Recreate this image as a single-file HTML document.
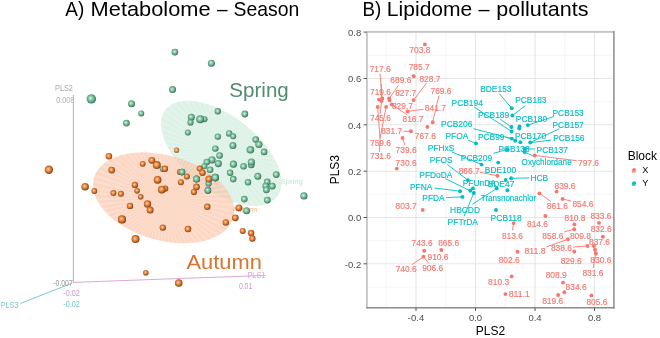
<!DOCTYPE html><html><head><meta charset="utf-8"><style>html,body{margin:0;padding:0;background:#fff;}svg{display:block;will-change:transform;}</style></head><body>
<svg width="660" height="338" viewBox="0 0 660 338" font-family='"Liberation Sans", sans-serif'>
<defs>
<radialGradient id="gg" cx="45%" cy="45%" r="58%" fx="42%" fy="42%"><stop offset="0" stop-color="#eafff3"/><stop offset="0.18" stop-color="#ace3c6"/><stop offset="0.45" stop-color="#7dc2a0"/><stop offset="0.74" stop-color="#5a9a7b"/><stop offset="0.9" stop-color="#3f735b"/><stop offset="1" stop-color="#36594a"/></radialGradient>
<radialGradient id="og" cx="45%" cy="45%" r="58%" fx="42%" fy="42%"><stop offset="0" stop-color="#ffe6c8"/><stop offset="0.2" stop-color="#f7ad6c"/><stop offset="0.52" stop-color="#e07d34"/><stop offset="0.8" stop-color="#a65322"/><stop offset="1" stop-color="#6a3412"/></radialGradient>
</defs>
<rect width="660" height="338" fill="#fff"/>
<text x="65.36" y="16.3" font-size="20.3" textLength="18.91" lengthAdjust="spacingAndGlyphs" fill="#000">A)</text>
<text x="90.61" y="16.3" font-size="20.3" textLength="119.96" lengthAdjust="spacingAndGlyphs" fill="#000">Metabolome</text>
<text x="216.9" y="16.3" font-size="20.3" textLength="10.61" lengthAdjust="spacingAndGlyphs" fill="#000">–</text>
<text x="233.52" y="16.3" font-size="20.3" textLength="65.74" lengthAdjust="spacingAndGlyphs" fill="#000">Season</text>
<text x="362.47" y="16.3" font-size="20.3" textLength="18.69" lengthAdjust="spacingAndGlyphs" fill="#000">B)</text>
<text x="386.87" y="16.3" font-size="20.3" textLength="85.46" lengthAdjust="spacingAndGlyphs" fill="#000">Lipidome</text>
<text x="478.6" y="16.3" font-size="20.3" textLength="11.01" lengthAdjust="spacingAndGlyphs" fill="#000">–</text>
<text x="496.31" y="16.3" font-size="20.3" textLength="92.27" lengthAdjust="spacingAndGlyphs" fill="#000">pollutants</text>
<circle cx="176.6" cy="150.2" r="2.6" fill="url(#og)"/>
<clipPath id="cg"><ellipse cx="221.3" cy="153.3" rx="70.8" ry="37.2" transform="rotate(38.2 221.3 153.3)"/></clipPath>
<clipPath id="co"><ellipse cx="163.6" cy="197.8" rx="72.5" ry="42.5" transform="rotate(15.9 163.6 197.8)"/></clipPath>
<ellipse cx="221.3" cy="153.3" rx="70.8" ry="37.2" transform="rotate(38.2 221.3 153.3)" fill="#b9e5cf" fill-opacity="0.5"/>
<path clip-path="url(#cg)" d="M221.3,153.3L331.3,153.3L331.2,157.9ZM221.3,153.3L330.9,162.5L330.4,167.1ZM221.3,153.3L329.8,171.6L328.9,176.2ZM221.3,153.3L327.8,180.7L326.6,185.1ZM221.3,153.3L325.2,189.5L323.6,193.8ZM221.3,153.3L321.8,198.0L319.8,202.2ZM221.3,153.3L317.7,206.3L315.4,210.3ZM221.3,153.3L312.9,214.2L310.3,218.0ZM221.3,153.3L307.5,221.6L304.6,225.2ZM221.3,153.3L301.5,228.6L298.3,231.9ZM221.3,153.3L294.9,235.0L291.4,238.1ZM221.3,153.3L287.8,240.9L284.1,243.6ZM221.3,153.3L280.2,246.2L276.3,248.6ZM221.3,153.3L272.3,250.8L268.1,252.8ZM221.3,153.3L263.9,254.7L259.6,256.4ZM221.3,153.3L255.3,257.9L250.9,259.2ZM221.3,153.3L246.4,260.4L241.9,261.4ZM221.3,153.3L237.4,262.1L232.8,262.7ZM221.3,153.3L228.2,263.1L223.6,263.3ZM221.3,153.3L219.0,263.3L214.4,263.1ZM221.3,153.3L209.8,262.7L205.2,262.1ZM221.3,153.3L200.7,261.4L196.2,260.4ZM221.3,153.3L191.7,259.2L187.3,257.9ZM221.3,153.3L183.0,256.4L178.7,254.7ZM221.3,153.3L174.5,252.8L170.3,250.8ZM221.3,153.3L166.3,248.6L162.4,246.2ZM221.3,153.3L158.5,243.6L154.8,240.9ZM221.3,153.3L151.2,238.1L147.7,235.0ZM221.3,153.3L144.3,231.9L141.1,228.6ZM221.3,153.3L138.0,225.2L135.1,221.6ZM221.3,153.3L132.3,218.0L129.7,214.2ZM221.3,153.3L127.2,210.3L124.9,206.3ZM221.3,153.3L122.8,202.2L120.8,198.0ZM221.3,153.3L119.0,193.8L117.4,189.5ZM221.3,153.3L116.0,185.1L114.8,180.7ZM221.3,153.3L113.7,176.2L112.8,171.6ZM221.3,153.3L112.2,167.1L111.7,162.5ZM221.3,153.3L111.4,157.9L111.3,153.3ZM221.3,153.3L111.4,148.7L111.7,144.1ZM221.3,153.3L112.2,139.5L112.8,135.0ZM221.3,153.3L113.7,130.4L114.8,125.9ZM221.3,153.3L116.0,121.5L117.4,117.1ZM221.3,153.3L119.0,112.8L120.8,108.6ZM221.3,153.3L122.8,104.4L124.9,100.3ZM221.3,153.3L127.2,96.3L129.7,92.4ZM221.3,153.3L132.3,88.6L135.1,85.0ZM221.3,153.3L138.0,81.4L141.1,78.0ZM221.3,153.3L144.3,74.7L147.7,71.6ZM221.3,153.3L151.2,68.5L154.8,65.7ZM221.3,153.3L158.5,63.0L162.4,60.4ZM221.3,153.3L166.3,58.0L170.3,55.8ZM221.3,153.3L174.5,53.8L178.7,51.9ZM221.3,153.3L183.0,50.2L187.3,48.7ZM221.3,153.3L191.7,47.4L196.2,46.2ZM221.3,153.3L200.7,45.2L205.2,44.5ZM221.3,153.3L209.8,43.9L214.4,43.5ZM221.3,153.3L219.0,43.3L223.6,43.3ZM221.3,153.3L228.2,43.5L232.8,43.9ZM221.3,153.3L237.4,44.5L241.9,45.2ZM221.3,153.3L246.4,46.2L250.9,47.4ZM221.3,153.3L255.3,48.7L259.6,50.2ZM221.3,153.3L263.9,51.9L268.1,53.8ZM221.3,153.3L272.3,55.8L276.3,58.0ZM221.3,153.3L280.2,60.4L284.1,63.0ZM221.3,153.3L287.8,65.7L291.4,68.5ZM221.3,153.3L294.9,71.6L298.3,74.7ZM221.3,153.3L301.5,78.0L304.6,81.4ZM221.3,153.3L307.5,85.0L310.3,88.6ZM221.3,153.3L312.9,92.4L315.4,96.3ZM221.3,153.3L317.7,100.3L319.8,104.4ZM221.3,153.3L321.8,108.6L323.6,112.8ZM221.3,153.3L325.2,117.1L326.6,121.5ZM221.3,153.3L327.8,125.9L328.9,130.4ZM221.3,153.3L329.8,135.0L330.4,139.5ZM221.3,153.3L330.9,144.1L331.2,148.7Z" fill="#fff" fill-opacity="0.2"/>
<ellipse cx="163.6" cy="197.8" rx="72.5" ry="42.5" transform="rotate(15.9 163.6 197.8)" fill="#fabd9d" fill-opacity="0.62"/>
<path clip-path="url(#co)" d="M163.6,197.8L273.6,197.8L273.5,202.4ZM163.6,197.8L273.2,207.0L272.7,211.6ZM163.6,197.8L272.1,216.1L271.2,220.7ZM163.6,197.8L270.1,225.2L268.9,229.6ZM163.6,197.8L267.5,234.0L265.9,238.3ZM163.6,197.8L264.1,242.5L262.1,246.7ZM163.6,197.8L260.0,250.8L257.7,254.8ZM163.6,197.8L255.2,258.7L252.6,262.5ZM163.6,197.8L249.8,266.1L246.9,269.7ZM163.6,197.8L243.8,273.1L240.6,276.4ZM163.6,197.8L237.2,279.5L233.7,282.6ZM163.6,197.8L230.1,285.4L226.4,288.1ZM163.6,197.8L222.5,290.7L218.6,293.1ZM163.6,197.8L214.6,295.3L210.4,297.3ZM163.6,197.8L206.2,299.2L201.9,300.9ZM163.6,197.8L197.6,302.4L193.2,303.7ZM163.6,197.8L188.7,304.9L184.2,305.9ZM163.6,197.8L179.7,306.6L175.1,307.2ZM163.6,197.8L170.5,307.6L165.9,307.8ZM163.6,197.8L161.3,307.8L156.7,307.6ZM163.6,197.8L152.1,307.2L147.5,306.6ZM163.6,197.8L143.0,305.9L138.5,304.9ZM163.6,197.8L134.0,303.7L129.6,302.4ZM163.6,197.8L125.3,300.9L121.0,299.2ZM163.6,197.8L116.8,297.3L112.6,295.3ZM163.6,197.8L108.6,293.1L104.7,290.7ZM163.6,197.8L100.8,288.1L97.1,285.4ZM163.6,197.8L93.5,282.6L90.0,279.5ZM163.6,197.8L86.6,276.4L83.4,273.1ZM163.6,197.8L80.3,269.7L77.4,266.1ZM163.6,197.8L74.6,262.5L72.0,258.7ZM163.6,197.8L69.5,254.8L67.2,250.8ZM163.6,197.8L65.1,246.7L63.1,242.5ZM163.6,197.8L61.3,238.3L59.7,234.0ZM163.6,197.8L58.3,229.6L57.1,225.2ZM163.6,197.8L56.0,220.7L55.1,216.1ZM163.6,197.8L54.5,211.6L54.0,207.0ZM163.6,197.8L53.7,202.4L53.6,197.8ZM163.6,197.8L53.7,193.2L54.0,188.6ZM163.6,197.8L54.5,184.0L55.1,179.5ZM163.6,197.8L56.0,174.9L57.1,170.4ZM163.6,197.8L58.3,166.0L59.7,161.6ZM163.6,197.8L61.3,157.3L63.1,153.1ZM163.6,197.8L65.1,148.9L67.2,144.8ZM163.6,197.8L69.5,140.8L72.0,136.9ZM163.6,197.8L74.6,133.1L77.4,129.5ZM163.6,197.8L80.3,125.9L83.4,122.5ZM163.6,197.8L86.6,119.2L90.0,116.1ZM163.6,197.8L93.5,113.0L97.1,110.2ZM163.6,197.8L100.8,107.5L104.7,104.9ZM163.6,197.8L108.6,102.5L112.6,100.3ZM163.6,197.8L116.8,98.3L121.0,96.4ZM163.6,197.8L125.3,94.7L129.6,93.2ZM163.6,197.8L134.0,91.9L138.5,90.7ZM163.6,197.8L143.0,89.7L147.5,89.0ZM163.6,197.8L152.1,88.4L156.7,88.0ZM163.6,197.8L161.3,87.8L165.9,87.8ZM163.6,197.8L170.5,88.0L175.1,88.4ZM163.6,197.8L179.7,89.0L184.2,89.7ZM163.6,197.8L188.7,90.7L193.2,91.9ZM163.6,197.8L197.6,93.2L201.9,94.7ZM163.6,197.8L206.2,96.4L210.4,98.3ZM163.6,197.8L214.6,100.3L218.6,102.5ZM163.6,197.8L222.5,104.9L226.4,107.5ZM163.6,197.8L230.1,110.2L233.7,113.0ZM163.6,197.8L237.2,116.1L240.6,119.2ZM163.6,197.8L243.8,122.5L246.9,125.9ZM163.6,197.8L249.8,129.5L252.6,133.1ZM163.6,197.8L255.2,136.9L257.7,140.8ZM163.6,197.8L260.0,144.8L262.1,148.9ZM163.6,197.8L264.1,153.1L265.9,157.3ZM163.6,197.8L267.5,161.6L268.9,166.0ZM163.6,197.8L270.1,170.4L271.2,174.9ZM163.6,197.8L272.1,179.5L272.7,184.0ZM163.6,197.8L273.2,188.6L273.5,193.2Z" fill="#fff" fill-opacity="0.2"/>
<circle cx="162.8" cy="168.9" r="3.0" fill="url(#gg)"/>
<circle cx="176.6" cy="150.2" r="2.6" fill="url(#og)" opacity="0.6"/>
<text x="280.7" y="184.4" font-size="7.6" fill="#bfe6d2">Spring</text>
<text x="232.6" y="211.5" font-size="7.2" fill="#f5b88f">Autumn</text>
<circle cx="91.3" cy="98.9" r="4.7" fill="url(#gg)"/>
<circle cx="174.9" cy="52.1" r="3.4" fill="url(#gg)"/>
<circle cx="211.4" cy="63.2" r="3.5" fill="url(#gg)"/>
<circle cx="172.5" cy="89.6" r="3.5" fill="url(#gg)"/>
<circle cx="244.8" cy="114" r="3.4" fill="url(#gg)"/>
<circle cx="131.5" cy="103.7" r="3.5" fill="url(#gg)"/>
<circle cx="141.2" cy="113.4" r="3.0" fill="url(#gg)"/>
<circle cx="126.4" cy="123.1" r="3.4" fill="url(#gg)"/>
<circle cx="217.8" cy="111.3" r="3.2" fill="url(#gg)"/>
<circle cx="191.3" cy="117.2" r="3.5" fill="url(#gg)"/>
<circle cx="190.5" cy="122.4" r="3.1" fill="url(#gg)"/>
<circle cx="204.5" cy="119.2" r="3.0" fill="url(#gg)"/>
<circle cx="200.2" cy="119.2" r="4.0" fill="url(#gg)"/>
<circle cx="187.8" cy="132.4" r="3.0" fill="url(#gg)"/>
<circle cx="217.8" cy="136.6" r="3.2" fill="url(#gg)"/>
<circle cx="229.2" cy="133.4" r="3.2" fill="url(#gg)"/>
<circle cx="233.2" cy="136.3" r="3.0" fill="url(#gg)"/>
<circle cx="232.9" cy="145.5" r="3.5" fill="url(#gg)"/>
<circle cx="215.3" cy="148.6" r="3.2" fill="url(#gg)"/>
<circle cx="219.6" cy="155.5" r="3.3" fill="url(#gg)"/>
<circle cx="255.7" cy="139.6" r="3.3" fill="url(#gg)"/>
<circle cx="258.9" cy="144.5" r="3.6" fill="url(#gg)"/>
<circle cx="250.4" cy="149.8" r="3.8" fill="url(#gg)"/>
<circle cx="264.1" cy="151.9" r="3.3" fill="url(#gg)"/>
<circle cx="212.0" cy="159.8" r="3.6" fill="url(#gg)"/>
<circle cx="206.8" cy="162.1" r="3.3" fill="url(#gg)"/>
<circle cx="218.3" cy="163.6" r="3.6" fill="url(#gg)"/>
<circle cx="233.4" cy="164.2" r="3.6" fill="url(#gg)"/>
<circle cx="204.3" cy="166.3" r="3.0" fill="url(#gg)"/>
<circle cx="210.1" cy="169.8" r="3.3" fill="url(#gg)"/>
<circle cx="230.1" cy="172.8" r="3.2" fill="url(#gg)"/>
<circle cx="233.2" cy="179.1" r="3.3" fill="url(#gg)"/>
<circle cx="215.2" cy="177.6" r="3.8" fill="url(#gg)"/>
<circle cx="182.0" cy="172.1" r="3.3" fill="url(#gg)"/>
<circle cx="196.5" cy="179.1" r="3.5" fill="url(#gg)"/>
<circle cx="208.6" cy="183.4" r="3.1" fill="url(#gg)"/>
<circle cx="207.9" cy="190.4" r="3.3" fill="url(#gg)"/>
<circle cx="251.3" cy="164.9" r="3.3" fill="url(#gg)"/>
<circle cx="251.3" cy="162.0" r="3.6" fill="url(#gg)"/>
<circle cx="243.5" cy="166.3" r="3.3" fill="url(#gg)"/>
<circle cx="257.8" cy="176.3" r="3.5" fill="url(#gg)"/>
<circle cx="276.2" cy="174.6" r="3.4" fill="url(#gg)"/>
<circle cx="248.0" cy="182.3" r="3.2" fill="url(#gg)"/>
<circle cx="267.2" cy="181.9" r="3.3" fill="url(#gg)"/>
<circle cx="265.6" cy="186.0" r="3.2" fill="url(#gg)"/>
<circle cx="272.3" cy="186.1" r="3.4" fill="url(#gg)"/>
<circle cx="266.4" cy="189.8" r="3.4" fill="url(#gg)"/>
<circle cx="303.9" cy="195.9" r="3.6" fill="url(#gg)"/>
<circle cx="244.3" cy="199.1" r="3.3" fill="url(#gg)"/>
<circle cx="267.3" cy="200.1" r="3.4" fill="url(#gg)"/>
<circle cx="48.9" cy="169.8" r="4.2" fill="url(#og)"/>
<circle cx="85.1" cy="186.7" r="3.8" fill="url(#og)"/>
<circle cx="94.3" cy="191" r="2.9" fill="url(#og)"/>
<circle cx="108.9" cy="156.3" r="3.3" fill="url(#og)"/>
<circle cx="111.7" cy="170.1" r="3.4" fill="url(#og)"/>
<circle cx="142.7" cy="163.8" r="2.9" fill="url(#og)"/>
<circle cx="151.8" cy="160.3" r="3.4" fill="url(#og)"/>
<circle cx="156.8" cy="165.1" r="4.0" fill="url(#og)"/>
<circle cx="164.9" cy="168.8" r="3.2" fill="url(#og)"/>
<circle cx="157.6" cy="179.8" r="3.9" fill="url(#og)"/>
<circle cx="134.9" cy="184.9" r="3.2" fill="url(#og)"/>
<circle cx="165.1" cy="188.6" r="3.2" fill="url(#og)"/>
<circle cx="161.8" cy="189.6" r="3.9" fill="url(#og)"/>
<circle cx="199.7" cy="168.6" r="3.0" fill="url(#og)"/>
<circle cx="202.5" cy="172.7" r="3.2" fill="url(#og)"/>
<circle cx="179.9" cy="172" r="3.0" fill="url(#og)"/>
<circle cx="186.9" cy="176.5" r="3.0" fill="url(#og)"/>
<circle cx="208.9" cy="179.1" r="3.5" fill="url(#og)"/>
<circle cx="180.9" cy="182.2" r="3.0" fill="url(#og)"/>
<circle cx="196.5" cy="186.9" r="3.3" fill="url(#og)"/>
<circle cx="193.9" cy="192" r="3.1" fill="url(#og)"/>
<circle cx="113.4" cy="193.1" r="3.0" fill="url(#og)"/>
<circle cx="120.9" cy="193.8" r="3.0" fill="url(#og)"/>
<circle cx="137.1" cy="190.7" r="2.8" fill="url(#og)"/>
<circle cx="140.7" cy="196.8" r="2.8" fill="url(#og)"/>
<circle cx="147.5" cy="203.9" r="3.7" fill="url(#og)"/>
<circle cx="150.1" cy="210.1" r="3.5" fill="url(#og)"/>
<circle cx="130" cy="205.9" r="3.2" fill="url(#og)"/>
<circle cx="122" cy="219.4" r="4.1" fill="url(#og)"/>
<circle cx="162.8" cy="227.6" r="3.2" fill="url(#og)"/>
<circle cx="207.3" cy="206.8" r="3.2" fill="url(#og)"/>
<circle cx="238.9" cy="207.8" r="3.4" fill="url(#og)"/>
<circle cx="235.3" cy="217.8" r="3.4" fill="url(#og)"/>
<circle cx="225.8" cy="222.4" r="3.2" fill="url(#og)"/>
<circle cx="188" cy="229" r="3.3" fill="url(#og)"/>
<circle cx="135.5" cy="239.1" r="4.0" fill="url(#og)"/>
<circle cx="242.7" cy="230.9" r="3.0" fill="url(#og)"/>
<circle cx="251.1" cy="233" r="3.2" fill="url(#og)"/>
<circle cx="252.4" cy="238.5" r="3.2" fill="url(#og)"/>
<circle cx="145.8" cy="272.7" r="2.8" fill="url(#og)"/>
<circle cx="178.7" cy="283" r="3.8" fill="url(#og)"/>
<circle cx="246.5" cy="210.7" r="3.5" fill="url(#gg)"/>
<circle cx="182.0" cy="172.1" r="3.3" fill="url(#gg)"/>
<circle cx="196.5" cy="179.1" r="3.5" fill="url(#gg)"/>
<circle cx="215.2" cy="177.6" r="3.8" fill="url(#gg)"/>
<circle cx="207.9" cy="190.4" r="3.3" fill="url(#gg)"/>
<text x="229.37" y="96.7" font-size="20.5" textLength="59.46" lengthAdjust="spacingAndGlyphs" fill="#508c6e">Spring</text>
<text x="186.56" y="268.9" font-size="19.5" textLength="75.26" lengthAdjust="spacingAndGlyphs" fill="#d9732f">Autumn</text>
<line x1="73.4" y1="95" x2="73.4" y2="282.7" stroke="#adadad" stroke-width="0.9"/>
<line x1="73" y1="282.4" x2="265.5" y2="275.4" stroke="#dba8dc" stroke-width="1"/>
<line x1="72" y1="283.2" x2="20.4" y2="303.5" stroke="#7cc8c8" stroke-width="1"/>
<text x="55.1" y="90.9" font-size="8.6" lengthAdjust="spacingAndGlyphs" textLength="17.8" fill="#a8a8a8">PLS2</text>
<text x="56.2" y="103.2" font-size="8.6" lengthAdjust="spacingAndGlyphs" textLength="18" fill="#b0b0b0">0.008</text>
<text x="53.2" y="286" font-size="8.6" lengthAdjust="spacingAndGlyphs" textLength="19.6" fill="#9c9c9c">-0.007</text>
<text x="247.4" y="278.4" font-size="8.6" lengthAdjust="spacingAndGlyphs" textLength="18" fill="#dca7dc">PLS1</text>
<text x="238.9" y="289.1" font-size="8.6" lengthAdjust="spacingAndGlyphs" textLength="13.3" fill="#d394d3">0.01</text>
<text x="63.3" y="296.1" font-size="8.6" lengthAdjust="spacingAndGlyphs" textLength="16.5" fill="#d394d3">-0.02</text>
<text x="63.3" y="306.8" font-size="8.6" lengthAdjust="spacingAndGlyphs" textLength="16.5" fill="#7cc6c6">-0.02</text>
<text x="0.6" y="307.7" font-size="8.6" lengthAdjust="spacingAndGlyphs" textLength="17.8" fill="#7cc6c6">PLS3</text>
<line x1="386.2" y1="31.9" x2="386.2" y2="307.7" stroke="#f2f2f2" stroke-width="0.8"/>
<line x1="445.8" y1="31.9" x2="445.8" y2="307.7" stroke="#f2f2f2" stroke-width="0.8"/>
<line x1="505.2" y1="31.9" x2="505.2" y2="307.7" stroke="#f2f2f2" stroke-width="0.8"/>
<line x1="564.8" y1="31.9" x2="564.8" y2="307.7" stroke="#f2f2f2" stroke-width="0.8"/>
<line x1="366.9" y1="55.3" x2="613.9" y2="55.3" stroke="#f2f2f2" stroke-width="0.8"/>
<line x1="366.9" y1="101.7" x2="613.9" y2="101.7" stroke="#f2f2f2" stroke-width="0.8"/>
<line x1="366.9" y1="148.0" x2="613.9" y2="148.0" stroke="#f2f2f2" stroke-width="0.8"/>
<line x1="366.9" y1="194.3" x2="613.9" y2="194.3" stroke="#f2f2f2" stroke-width="0.8"/>
<line x1="366.9" y1="240.7" x2="613.9" y2="240.7" stroke="#f2f2f2" stroke-width="0.8"/>
<line x1="366.9" y1="287.0" x2="613.9" y2="287.0" stroke="#f2f2f2" stroke-width="0.8"/>
<line x1="416.0" y1="31.9" x2="416.0" y2="307.7" stroke="#e6e6e6" stroke-width="1.1"/>
<line x1="475.5" y1="31.9" x2="475.5" y2="307.7" stroke="#e6e6e6" stroke-width="1.1"/>
<line x1="535.0" y1="31.9" x2="535.0" y2="307.7" stroke="#e6e6e6" stroke-width="1.1"/>
<line x1="594.5" y1="31.9" x2="594.5" y2="307.7" stroke="#e6e6e6" stroke-width="1.1"/>
<line x1="366.9" y1="32.1" x2="613.9" y2="32.1" stroke="#e6e6e6" stroke-width="1.1"/>
<line x1="366.9" y1="78.5" x2="613.9" y2="78.5" stroke="#e6e6e6" stroke-width="1.1"/>
<line x1="366.9" y1="124.8" x2="613.9" y2="124.8" stroke="#e6e6e6" stroke-width="1.1"/>
<line x1="366.9" y1="171.2" x2="613.9" y2="171.2" stroke="#e6e6e6" stroke-width="1.1"/>
<line x1="366.9" y1="217.5" x2="613.9" y2="217.5" stroke="#e6e6e6" stroke-width="1.1"/>
<line x1="366.9" y1="263.8" x2="613.9" y2="263.8" stroke="#e6e6e6" stroke-width="1.1"/>
<line x1="380" y1="73.5" x2="382" y2="97.5" stroke="#F8766D" stroke-width="0.9"/>
<line x1="398.4" y1="85.3" x2="389.5" y2="98" stroke="#F8766D" stroke-width="0.9"/>
<line x1="426.8" y1="82.7" x2="413.8" y2="99.8" stroke="#F8766D" stroke-width="0.9"/>
<line x1="439" y1="95.4" x2="432.8" y2="121.5" stroke="#F8766D" stroke-width="0.9"/>
<line x1="392.5" y1="105.2" x2="406.6" y2="114.4" stroke="#F8766D" stroke-width="0.9"/>
<line x1="407.8" y1="111.3" x2="423.5" y2="109.3" stroke="#F8766D" stroke-width="0.9"/>
<line x1="403.4" y1="131.3" x2="410.5" y2="131.3" stroke="#F8766D" stroke-width="0.9"/>
<line x1="402.6" y1="138.5" x2="405" y2="145.2" stroke="#F8766D" stroke-width="0.9"/>
<line x1="381.6" y1="101.5" x2="380.2" y2="113.8" stroke="#F8766D" stroke-width="0.9"/>
<line x1="377.7" y1="107" x2="380" y2="138.3" stroke="#F8766D" stroke-width="0.9"/>
<line x1="386.1" y1="107" x2="380" y2="138.3" stroke="#F8766D" stroke-width="0.9"/>
<line x1="380" y1="138.3" x2="379.6" y2="152" stroke="#F8766D" stroke-width="0.9"/>
<line x1="534.6" y1="155.4" x2="576.8" y2="160.7" stroke="#F8766D" stroke-width="0.9"/>
<line x1="480" y1="172.3" x2="497.2" y2="175.7" stroke="#F8766D" stroke-width="0.9"/>
<line x1="539.6" y1="193.3" x2="550.8" y2="201.5" stroke="#F8766D" stroke-width="0.9"/>
<line x1="562.5" y1="198.9" x2="571" y2="201" stroke="#F8766D" stroke-width="0.9"/>
<line x1="513.6" y1="223.1" x2="512.5" y2="230.2" stroke="#F8766D" stroke-width="0.9"/>
<line x1="574.2" y1="229.2" x2="564.4" y2="231.8" stroke="#F8766D" stroke-width="0.9"/>
<line x1="546.4" y1="246.9" x2="567.9" y2="239.3" stroke="#F8766D" stroke-width="0.9"/>
<line x1="573.1" y1="247.1" x2="587.5" y2="246" stroke="#F8766D" stroke-width="0.9"/>
<line x1="593.9" y1="246" x2="595.8" y2="253.5" stroke="#F8766D" stroke-width="0.9"/>
<line x1="593.3" y1="267.9" x2="595.6" y2="253.5" stroke="#F8766D" stroke-width="0.9"/>
<line x1="423.5" y1="256.8" x2="412.3" y2="264.4" stroke="#F8766D" stroke-width="0.9"/>
<line x1="423.5" y1="256.8" x2="428.9" y2="263.4" stroke="#F8766D" stroke-width="0.9"/>
<line x1="381.3" y1="84" x2="381.3" y2="98" stroke="#F8766D" stroke-width="0.9"/>
<line x1="499.2" y1="93.5" x2="511.5" y2="108" stroke="#00BFC4" stroke-width="0.9"/>
<line x1="525.5" y1="105.6" x2="512.6" y2="115.3" stroke="#00BFC4" stroke-width="0.9"/>
<line x1="473.8" y1="106.8" x2="511.6" y2="131.5" stroke="#00BFC4" stroke-width="0.9"/>
<line x1="500.3" y1="119.3" x2="511.4" y2="127" stroke="#00BFC4" stroke-width="0.9"/>
<line x1="553.9" y1="116.5" x2="527.8" y2="125.1" stroke="#00BFC4" stroke-width="0.9"/>
<line x1="559.2" y1="128.8" x2="530.2" y2="142.5" stroke="#00BFC4" stroke-width="0.9"/>
<line x1="551.3" y1="140.1" x2="530.5" y2="142.6" stroke="#00BFC4" stroke-width="0.9"/>
<line x1="473.4" y1="128.7" x2="511.8" y2="138.6" stroke="#00BFC4" stroke-width="0.9"/>
<line x1="505.6" y1="136.9" x2="515.3" y2="140.7" stroke="#00BFC4" stroke-width="0.9"/>
<line x1="468.3" y1="140.3" x2="476" y2="143.4" stroke="#00BFC4" stroke-width="0.9"/>
<line x1="451.9" y1="151.9" x2="481.6" y2="164.6" stroke="#00BFC4" stroke-width="0.9"/>
<line x1="493.3" y1="153.4" x2="507.4" y2="149.3" stroke="#00BFC4" stroke-width="0.9"/>
<line x1="524.9" y1="148.9" x2="534.8" y2="149" stroke="#00BFC4" stroke-width="0.9"/>
<line x1="524.6" y1="152.1" x2="535.5" y2="156.9" stroke="#00BFC4" stroke-width="0.9"/>
<line x1="447.1" y1="164.3" x2="467.9" y2="180.1" stroke="#00BFC4" stroke-width="0.9"/>
<line x1="445.2" y1="178.6" x2="470.3" y2="190.8" stroke="#00BFC4" stroke-width="0.9"/>
<line x1="511.1" y1="178.3" x2="529.6" y2="177.9" stroke="#00BFC4" stroke-width="0.9"/>
<line x1="434.3" y1="188" x2="460.1" y2="191.2" stroke="#00BFC4" stroke-width="0.9"/>
<line x1="446.1" y1="197.6" x2="462.4" y2="196.9" stroke="#00BFC4" stroke-width="0.9"/>
<line x1="496.7" y1="188.4" x2="472.4" y2="204.3" stroke="#00BFC4" stroke-width="0.9"/>
<line x1="473.7" y1="193.1" x2="464.1" y2="216.2" stroke="#00BFC4" stroke-width="0.9"/>
<circle cx="424.9" cy="44.4" r="1.95" fill="#F8766D"/>
<circle cx="413.7" cy="76.3" r="1.95" fill="#F8766D"/>
<circle cx="382.3" cy="98.4" r="1.95" fill="#F8766D"/>
<circle cx="378.9" cy="99.6" r="1.95" fill="#F8766D"/>
<circle cx="381.5" cy="101" r="1.95" fill="#F8766D"/>
<circle cx="389.1" cy="98.5" r="1.95" fill="#F8766D"/>
<circle cx="389.6" cy="100.2" r="1.95" fill="#F8766D"/>
<circle cx="413.6" cy="100.1" r="1.95" fill="#F8766D"/>
<circle cx="377.7" cy="106.9" r="1.95" fill="#F8766D"/>
<circle cx="386.1" cy="106.9" r="1.95" fill="#F8766D"/>
<circle cx="391.8" cy="104.5" r="1.95" fill="#F8766D"/>
<circle cx="407.6" cy="111.4" r="1.95" fill="#F8766D"/>
<circle cx="432.7" cy="122.2" r="1.95" fill="#F8766D"/>
<circle cx="427.4" cy="126.9" r="1.95" fill="#F8766D"/>
<circle cx="410.9" cy="131.2" r="1.95" fill="#F8766D"/>
<circle cx="402.5" cy="137.9" r="1.95" fill="#F8766D"/>
<circle cx="396.8" cy="168.6" r="1.95" fill="#F8766D"/>
<circle cx="422.7" cy="210" r="1.95" fill="#F8766D"/>
<circle cx="534.6" cy="155.4" r="1.95" fill="#F8766D"/>
<circle cx="497.4" cy="175.8" r="1.95" fill="#F8766D"/>
<circle cx="556.6" cy="191.6" r="1.95" fill="#F8766D"/>
<circle cx="539.5" cy="193.4" r="1.95" fill="#F8766D"/>
<circle cx="562.5" cy="198.9" r="1.95" fill="#F8766D"/>
<circle cx="545.4" cy="216" r="1.95" fill="#F8766D"/>
<circle cx="574.4" cy="224.4" r="1.95" fill="#F8766D"/>
<circle cx="599" cy="222.9" r="1.95" fill="#F8766D"/>
<circle cx="574.2" cy="229.2" r="1.95" fill="#F8766D"/>
<circle cx="602.9" cy="236.7" r="1.95" fill="#F8766D"/>
<circle cx="513.6" cy="223.1" r="1.95" fill="#F8766D"/>
<circle cx="567.9" cy="239.3" r="1.95" fill="#F8766D"/>
<circle cx="587.5" cy="246" r="1.95" fill="#F8766D"/>
<circle cx="593.9" cy="246" r="1.95" fill="#F8766D"/>
<circle cx="595" cy="249.8" r="1.95" fill="#F8766D"/>
<circle cx="595.8" cy="253.5" r="1.95" fill="#F8766D"/>
<circle cx="574.3" cy="251.5" r="1.95" fill="#F8766D"/>
<circle cx="517.5" cy="251.8" r="1.95" fill="#F8766D"/>
<circle cx="424.2" cy="250.7" r="1.95" fill="#F8766D"/>
<circle cx="441.3" cy="250" r="1.95" fill="#F8766D"/>
<circle cx="423.5" cy="256.8" r="1.95" fill="#F8766D"/>
<circle cx="511.6" cy="276.4" r="1.95" fill="#F8766D"/>
<circle cx="505.4" cy="294.1" r="1.95" fill="#F8766D"/>
<circle cx="563" cy="282.6" r="1.95" fill="#F8766D"/>
<circle cx="564.3" cy="292.3" r="1.95" fill="#F8766D"/>
<circle cx="558.1" cy="295" r="1.95" fill="#F8766D"/>
<circle cx="591.4" cy="295.4" r="1.95" fill="#F8766D"/>
<circle cx="511.8" cy="108.3" r="1.95" fill="#00BFC4"/>
<circle cx="512.4" cy="115.5" r="1.95" fill="#00BFC4"/>
<circle cx="511.4" cy="127" r="1.95" fill="#00BFC4"/>
<circle cx="519.5" cy="126.5" r="1.95" fill="#00BFC4"/>
<circle cx="519.2" cy="128.5" r="1.95" fill="#00BFC4"/>
<circle cx="527.8" cy="125.1" r="1.95" fill="#00BFC4"/>
<circle cx="511.6" cy="131.5" r="1.95" fill="#00BFC4"/>
<circle cx="511.8" cy="138.6" r="1.95" fill="#00BFC4"/>
<circle cx="515.3" cy="140.7" r="1.95" fill="#00BFC4"/>
<circle cx="520.3" cy="142.2" r="1.95" fill="#00BFC4"/>
<circle cx="530.2" cy="142.5" r="1.95" fill="#00BFC4"/>
<circle cx="476" cy="143.4" r="1.95" fill="#00BFC4"/>
<circle cx="507.4" cy="149.3" r="1.95" fill="#00BFC4"/>
<circle cx="524.9" cy="148.9" r="1.95" fill="#00BFC4"/>
<circle cx="524.6" cy="152.1" r="1.95" fill="#00BFC4"/>
<circle cx="481.6" cy="164.6" r="1.95" fill="#00BFC4"/>
<circle cx="498.2" cy="162.6" r="1.95" fill="#00BFC4"/>
<circle cx="467.9" cy="180.1" r="1.95" fill="#00BFC4"/>
<circle cx="505.7" cy="180" r="1.95" fill="#00BFC4"/>
<circle cx="511.1" cy="178.3" r="1.95" fill="#00BFC4"/>
<circle cx="460.1" cy="191.2" r="1.95" fill="#00BFC4"/>
<circle cx="462.4" cy="196.9" r="1.95" fill="#00BFC4"/>
<circle cx="470.3" cy="190.8" r="1.95" fill="#00BFC4"/>
<circle cx="472.9" cy="188.4" r="1.95" fill="#00BFC4"/>
<circle cx="473.8" cy="193" r="1.95" fill="#00BFC4"/>
<circle cx="496.7" cy="188.4" r="1.95" fill="#00BFC4"/>
<circle cx="507.4" cy="190.3" r="1.95" fill="#00BFC4"/>
<circle cx="496" cy="210" r="1.95" fill="#00BFC4"/>
<text x="409.30" y="53.4" font-size="8.75" textLength="21.02" lengthAdjust="spacingAndGlyphs" fill="#F8766D" stroke="#F8766D" stroke-width="0.15">703.8</text>
<text x="369.70" y="71.6" font-size="8.75" textLength="21.02" lengthAdjust="spacingAndGlyphs" fill="#F8766D" stroke="#F8766D" stroke-width="0.15">717.6</text>
<text x="408.70" y="70.2" font-size="8.75" textLength="21.02" lengthAdjust="spacingAndGlyphs" fill="#F8766D" stroke="#F8766D" stroke-width="0.15">785.7</text>
<text x="390.30" y="83.4" font-size="8.75" textLength="21.02" lengthAdjust="spacingAndGlyphs" fill="#F8766D" stroke="#F8766D" stroke-width="0.15">689.6</text>
<text x="419.40" y="82.3" font-size="8.75" textLength="21.02" lengthAdjust="spacingAndGlyphs" fill="#F8766D" stroke="#F8766D" stroke-width="0.15">828.7</text>
<text x="370.00" y="95" font-size="8.75" textLength="21.02" lengthAdjust="spacingAndGlyphs" fill="#F8766D" stroke="#F8766D" stroke-width="0.15">719.6</text>
<text x="395.20" y="95.8" font-size="8.75" textLength="21.02" lengthAdjust="spacingAndGlyphs" fill="#F8766D" stroke="#F8766D" stroke-width="0.15">827.7</text>
<text x="430.50" y="93.8" font-size="8.75" textLength="21.02" lengthAdjust="spacingAndGlyphs" fill="#F8766D" stroke="#F8766D" stroke-width="0.15">769.6</text>
<text x="391.90" y="109" font-size="8.75" textLength="21.02" lengthAdjust="spacingAndGlyphs" fill="#F8766D" stroke="#F8766D" stroke-width="0.15">829.7</text>
<text x="424.80" y="110.6" font-size="8.75" textLength="21.02" lengthAdjust="spacingAndGlyphs" fill="#F8766D" stroke="#F8766D" stroke-width="0.15">841.7</text>
<text x="370.00" y="120.6" font-size="8.75" textLength="21.02" lengthAdjust="spacingAndGlyphs" fill="#F8766D" stroke="#F8766D" stroke-width="0.15">745.6</text>
<text x="402.50" y="121.9" font-size="8.75" textLength="21.02" lengthAdjust="spacingAndGlyphs" fill="#F8766D" stroke="#F8766D" stroke-width="0.15">816.7</text>
<text x="381.20" y="134.3" font-size="8.75" textLength="21.02" lengthAdjust="spacingAndGlyphs" fill="#F8766D" stroke="#F8766D" stroke-width="0.15">831.7</text>
<text x="414.80" y="139" font-size="8.75" textLength="21.02" lengthAdjust="spacingAndGlyphs" fill="#F8766D" stroke="#F8766D" stroke-width="0.15">767.6</text>
<text x="370.00" y="146.3" font-size="8.75" textLength="21.02" lengthAdjust="spacingAndGlyphs" fill="#F8766D" stroke="#F8766D" stroke-width="0.15">759.6</text>
<text x="395.60" y="152.6" font-size="8.75" textLength="21.02" lengthAdjust="spacingAndGlyphs" fill="#F8766D" stroke="#F8766D" stroke-width="0.15">739.6</text>
<text x="370.00" y="158.7" font-size="8.75" textLength="21.02" lengthAdjust="spacingAndGlyphs" fill="#F8766D" stroke="#F8766D" stroke-width="0.15">731.6</text>
<text x="395.60" y="165.6" font-size="8.75" textLength="21.02" lengthAdjust="spacingAndGlyphs" fill="#F8766D" stroke="#F8766D" stroke-width="0.15">730.6</text>
<text x="578.00" y="165.6" font-size="8.75" textLength="21.02" lengthAdjust="spacingAndGlyphs" fill="#F8766D" stroke="#F8766D" stroke-width="0.15">797.6</text>
<text x="458.70" y="174" font-size="8.75" textLength="21.02" lengthAdjust="spacingAndGlyphs" fill="#F8766D" stroke="#F8766D" stroke-width="0.15">866.7</text>
<text x="395.60" y="208.8" font-size="8.75" textLength="21.02" lengthAdjust="spacingAndGlyphs" fill="#F8766D" stroke="#F8766D" stroke-width="0.15">803.7</text>
<text x="554.50" y="188.6" font-size="8.75" textLength="21.02" lengthAdjust="spacingAndGlyphs" fill="#F8766D" stroke="#F8766D" stroke-width="0.15">839.6</text>
<text x="546.80" y="209.4" font-size="8.75" textLength="21.02" lengthAdjust="spacingAndGlyphs" fill="#F8766D" stroke="#F8766D" stroke-width="0.15">861.6</text>
<text x="572.40" y="206.5" font-size="8.75" textLength="21.02" lengthAdjust="spacingAndGlyphs" fill="#F8766D" stroke="#F8766D" stroke-width="0.15">854.6</text>
<text x="527.00" y="226.7" font-size="8.75" textLength="21.02" lengthAdjust="spacingAndGlyphs" fill="#F8766D" stroke="#F8766D" stroke-width="0.15">814.6</text>
<text x="564.50" y="221.4" font-size="8.75" textLength="21.02" lengthAdjust="spacingAndGlyphs" fill="#F8766D" stroke="#F8766D" stroke-width="0.15">810.8</text>
<text x="590.40" y="218.7" font-size="8.75" textLength="21.02" lengthAdjust="spacingAndGlyphs" fill="#F8766D" stroke="#F8766D" stroke-width="0.15">833.6</text>
<text x="501.90" y="238.6" font-size="8.75" textLength="21.02" lengthAdjust="spacingAndGlyphs" fill="#F8766D" stroke="#F8766D" stroke-width="0.15">813.6</text>
<text x="542.30" y="239.1" font-size="8.75" textLength="21.02" lengthAdjust="spacingAndGlyphs" fill="#F8766D" stroke="#F8766D" stroke-width="0.15">858.6</text>
<text x="569.90" y="239.1" font-size="8.75" textLength="21.02" lengthAdjust="spacingAndGlyphs" fill="#F8766D" stroke="#F8766D" stroke-width="0.15">809.8</text>
<text x="590.70" y="232.1" font-size="8.75" textLength="21.02" lengthAdjust="spacingAndGlyphs" fill="#F8766D" stroke="#F8766D" stroke-width="0.15">832.6</text>
<text x="589.00" y="244.8" font-size="8.75" textLength="21.02" lengthAdjust="spacingAndGlyphs" fill="#F8766D" stroke="#F8766D" stroke-width="0.15">837.6</text>
<text x="524.50" y="254.4" font-size="8.75" textLength="21.02" lengthAdjust="spacingAndGlyphs" fill="#F8766D" stroke="#F8766D" stroke-width="0.15">811.8</text>
<text x="550.90" y="250.9" font-size="8.75" textLength="21.02" lengthAdjust="spacingAndGlyphs" fill="#F8766D" stroke="#F8766D" stroke-width="0.15">838.6</text>
<text x="560.70" y="263.6" font-size="8.75" textLength="21.02" lengthAdjust="spacingAndGlyphs" fill="#F8766D" stroke="#F8766D" stroke-width="0.15">829.6</text>
<text x="590.30" y="263.3" font-size="8.75" textLength="21.02" lengthAdjust="spacingAndGlyphs" fill="#F8766D" stroke="#F8766D" stroke-width="0.15">830.6</text>
<text x="498.70" y="263.1" font-size="8.75" textLength="21.02" lengthAdjust="spacingAndGlyphs" fill="#F8766D" stroke="#F8766D" stroke-width="0.15">802.6</text>
<text x="411.60" y="246.4" font-size="8.75" textLength="21.02" lengthAdjust="spacingAndGlyphs" fill="#F8766D" stroke="#F8766D" stroke-width="0.15">743.6</text>
<text x="438.20" y="245.7" font-size="8.75" textLength="21.02" lengthAdjust="spacingAndGlyphs" fill="#F8766D" stroke="#F8766D" stroke-width="0.15">865.6</text>
<text x="427.50" y="259.8" font-size="8.75" textLength="21.02" lengthAdjust="spacingAndGlyphs" fill="#F8766D" stroke="#F8766D" stroke-width="0.15">910.6</text>
<text x="395.70" y="272.4" font-size="8.75" textLength="21.02" lengthAdjust="spacingAndGlyphs" fill="#F8766D" stroke="#F8766D" stroke-width="0.15">740.6</text>
<text x="422.20" y="270.9" font-size="8.75" textLength="21.02" lengthAdjust="spacingAndGlyphs" fill="#F8766D" stroke="#F8766D" stroke-width="0.15">906.6</text>
<text x="545.70" y="277.6" font-size="8.75" textLength="21.02" lengthAdjust="spacingAndGlyphs" fill="#F8766D" stroke="#F8766D" stroke-width="0.15">808.9</text>
<text x="582.40" y="275.6" font-size="8.75" textLength="21.02" lengthAdjust="spacingAndGlyphs" fill="#F8766D" stroke="#F8766D" stroke-width="0.15">831.6</text>
<text x="565.60" y="289.7" font-size="8.75" textLength="21.02" lengthAdjust="spacingAndGlyphs" fill="#F8766D" stroke="#F8766D" stroke-width="0.15">834.6</text>
<text x="488.10" y="284.9" font-size="8.75" textLength="21.02" lengthAdjust="spacingAndGlyphs" fill="#F8766D" stroke="#F8766D" stroke-width="0.15">810.3</text>
<text x="508.80" y="297.4" font-size="8.75" textLength="21.02" lengthAdjust="spacingAndGlyphs" fill="#F8766D" stroke="#F8766D" stroke-width="0.15">811.1</text>
<text x="542.20" y="304.4" font-size="8.75" textLength="21.02" lengthAdjust="spacingAndGlyphs" fill="#F8766D" stroke="#F8766D" stroke-width="0.15">819.6</text>
<text x="586.40" y="304.6" font-size="8.75" textLength="21.02" lengthAdjust="spacingAndGlyphs" fill="#F8766D" stroke="#F8766D" stroke-width="0.15">805.6</text>
<text x="480.20" y="91.7" font-size="8.75" textLength="31.29" lengthAdjust="spacingAndGlyphs" fill="#00BFC4" stroke="#00BFC4" stroke-width="0.15">BDE153</text>
<text x="515.20" y="103.4" font-size="8.75" textLength="31.29" lengthAdjust="spacingAndGlyphs" fill="#00BFC4" stroke="#00BFC4" stroke-width="0.15">PCB183</text>
<text x="451.60" y="105.7" font-size="8.75" textLength="31.29" lengthAdjust="spacingAndGlyphs" fill="#00BFC4" stroke="#00BFC4" stroke-width="0.15">PCB194</text>
<text x="477.90" y="118.3" font-size="8.75" textLength="31.29" lengthAdjust="spacingAndGlyphs" fill="#00BFC4" stroke="#00BFC4" stroke-width="0.15">PCB189</text>
<text x="552.50" y="115.8" font-size="8.75" textLength="31.29" lengthAdjust="spacingAndGlyphs" fill="#00BFC4" stroke="#00BFC4" stroke-width="0.15">PCB153</text>
<text x="515.80" y="122.2" font-size="8.75" textLength="31.29" lengthAdjust="spacingAndGlyphs" fill="#00BFC4" stroke="#00BFC4" stroke-width="0.15">PCB180</text>
<text x="552.50" y="127.7" font-size="8.75" textLength="31.29" lengthAdjust="spacingAndGlyphs" fill="#00BFC4" stroke="#00BFC4" stroke-width="0.15">PCB157</text>
<text x="441.10" y="127" font-size="8.75" textLength="31.29" lengthAdjust="spacingAndGlyphs" fill="#00BFC4" stroke="#00BFC4" stroke-width="0.15">PCB206</text>
<text x="514.90" y="138.5" font-size="8.75" textLength="31.29" lengthAdjust="spacingAndGlyphs" fill="#00BFC4" stroke="#00BFC4" stroke-width="0.15">PCB170</text>
<text x="553.20" y="140.8" font-size="8.75" textLength="31.29" lengthAdjust="spacingAndGlyphs" fill="#00BFC4" stroke="#00BFC4" stroke-width="0.15">PCB156</text>
<text x="445.50" y="139" font-size="8.75" textLength="22.87" lengthAdjust="spacingAndGlyphs" fill="#00BFC4" stroke="#00BFC4" stroke-width="0.15">PFOA</text>
<text x="477.90" y="139.6" font-size="8.75" textLength="26.62" lengthAdjust="spacingAndGlyphs" fill="#00BFC4" stroke="#00BFC4" stroke-width="0.15">PCB99</text>
<text x="427.70" y="151" font-size="8.75" textLength="26.60" lengthAdjust="spacingAndGlyphs" fill="#00BFC4" stroke="#00BFC4" stroke-width="0.15">PFHxS</text>
<text x="498.40" y="151.5" font-size="8.75" textLength="31.29" lengthAdjust="spacingAndGlyphs" fill="#00BFC4" stroke="#00BFC4" stroke-width="0.15">PCB138</text>
<text x="536.60" y="152.8" font-size="8.75" textLength="31.29" lengthAdjust="spacingAndGlyphs" fill="#00BFC4" stroke="#00BFC4" stroke-width="0.15">PCB137</text>
<text x="429.80" y="162.9" font-size="8.75" textLength="22.87" lengthAdjust="spacingAndGlyphs" fill="#00BFC4" stroke="#00BFC4" stroke-width="0.15">PFOS</text>
<text x="460.80" y="160.5" font-size="8.75" textLength="31.29" lengthAdjust="spacingAndGlyphs" fill="#00BFC4" stroke="#00BFC4" stroke-width="0.15">PCB209</text>
<text x="521.62" y="164.9" font-size="8.75" textLength="50.04" lengthAdjust="spacingAndGlyphs" fill="#00BFC4" stroke="#00BFC4" stroke-width="0.15">Oxychlordane</text>
<text x="484.80" y="172.9" font-size="8.75" textLength="31.29" lengthAdjust="spacingAndGlyphs" fill="#00BFC4" stroke="#00BFC4" stroke-width="0.15">BDE100</text>
<text x="419.30" y="177.6" font-size="8.75" textLength="33.14" lengthAdjust="spacingAndGlyphs" fill="#00BFC4" stroke="#00BFC4" stroke-width="0.15">PFDoDA</text>
<text x="462.70" y="186.1" font-size="8.75" textLength="33.14" lengthAdjust="spacingAndGlyphs" fill="#00BFC4" stroke="#00BFC4" stroke-width="0.15">PFUnDA</text>
<text x="487.70" y="186.5" font-size="8.75" textLength="26.62" lengthAdjust="spacingAndGlyphs" fill="#00BFC4" stroke="#00BFC4" stroke-width="0.15">BDE47</text>
<text x="530.40" y="181" font-size="8.75" textLength="17.74" lengthAdjust="spacingAndGlyphs" fill="#00BFC4" stroke="#00BFC4" stroke-width="0.15">HCB</text>
<text x="410.00" y="189.5" font-size="8.75" textLength="22.40" lengthAdjust="spacingAndGlyphs" fill="#00BFC4" stroke="#00BFC4" stroke-width="0.15">PFNA</text>
<text x="422.30" y="201.4" font-size="8.75" textLength="22.40" lengthAdjust="spacingAndGlyphs" fill="#00BFC4" stroke="#00BFC4" stroke-width="0.15">PFDA</text>
<text x="480.82" y="200.6" font-size="8.75" textLength="55.31" lengthAdjust="spacingAndGlyphs" fill="#00BFC4" stroke="#00BFC4" stroke-width="0.15">Transnonachlor</text>
<text x="450.10" y="212.8" font-size="8.75" textLength="29.87" lengthAdjust="spacingAndGlyphs" fill="#00BFC4" stroke="#00BFC4" stroke-width="0.15">HBCDD</text>
<text x="447.60" y="224.7" font-size="8.75" textLength="30.33" lengthAdjust="spacingAndGlyphs" fill="#00BFC4" stroke="#00BFC4" stroke-width="0.15">PFTrDA</text>
<text x="490.60" y="220.6" font-size="8.75" textLength="31.29" lengthAdjust="spacingAndGlyphs" fill="#00BFC4" stroke="#00BFC4" stroke-width="0.15">PCB118</text>
<line x1="366.9" y1="31.9" x2="613.9" y2="31.9" stroke="#c4c4c4" stroke-width="1.6"/>
<line x1="366.9" y1="31.9" x2="366.9" y2="307.7" stroke="#c4c4c4" stroke-width="1.8"/>
<line x1="613.9" y1="31.099999999999998" x2="613.9" y2="308.5" stroke="#8c8c8c" stroke-width="1.5"/>
<line x1="366.0" y1="307.7" x2="614.6" y2="307.7" stroke="#8c8c8c" stroke-width="1.5"/>
<line x1="363.6" y1="32.1" x2="366.9" y2="32.1" stroke="#555" stroke-width="1"/>
<text x="361.2" y="36.0" font-size="9.5" text-anchor="end" fill="#4d4d4d">0.8</text>
<line x1="363.6" y1="78.5" x2="366.9" y2="78.5" stroke="#555" stroke-width="1"/>
<text x="361.2" y="82.4" font-size="9.5" text-anchor="end" fill="#4d4d4d">0.6</text>
<line x1="363.6" y1="124.8" x2="366.9" y2="124.8" stroke="#555" stroke-width="1"/>
<text x="361.2" y="128.7" font-size="9.5" text-anchor="end" fill="#4d4d4d">0.4</text>
<line x1="363.6" y1="171.2" x2="366.9" y2="171.2" stroke="#555" stroke-width="1"/>
<text x="361.2" y="175.1" font-size="9.5" text-anchor="end" fill="#4d4d4d">0.2</text>
<line x1="363.6" y1="217.5" x2="366.9" y2="217.5" stroke="#555" stroke-width="1"/>
<text x="361.2" y="221.4" font-size="9.5" text-anchor="end" fill="#4d4d4d">0.0</text>
<line x1="363.6" y1="263.8" x2="366.9" y2="263.8" stroke="#555" stroke-width="1"/>
<text x="361.2" y="267.7" font-size="9.5" text-anchor="end" fill="#4d4d4d">-0.2</text>
<line x1="416.0" y1="307.7" x2="416.0" y2="311" stroke="#555" stroke-width="1"/>
<text x="416.0" y="321.2" font-size="9.5" text-anchor="middle" fill="#4d4d4d">-0.4</text>
<line x1="475.5" y1="307.7" x2="475.5" y2="311" stroke="#555" stroke-width="1"/>
<text x="475.5" y="321.2" font-size="9.5" text-anchor="middle" fill="#4d4d4d">0.0</text>
<line x1="535.0" y1="307.7" x2="535.0" y2="311" stroke="#555" stroke-width="1"/>
<text x="535.0" y="321.2" font-size="9.5" text-anchor="middle" fill="#4d4d4d">0.4</text>
<line x1="594.5" y1="307.7" x2="594.5" y2="311" stroke="#555" stroke-width="1"/>
<text x="594.5" y="321.2" font-size="9.5" text-anchor="middle" fill="#4d4d4d">0.8</text>
<text x="490.4" y="334.8" font-size="12" text-anchor="middle" fill="#000">PLS2</text>
<text transform="translate(338.8 169.7) rotate(-90)" font-size="12" text-anchor="middle" fill="#000">PLS3</text>
<text x="627.7" y="159.5" font-size="12" fill="#000">Block</text>
<text x="631.8" y="172.6" font-size="7" fill="#F8766D">a</text>
<circle cx="634.1" cy="169.9" r="1.9" fill="#F8766D"/>
<text x="631.8" y="185.9" font-size="7" fill="#00BFC4">a</text>
<circle cx="634.1" cy="183.2" r="1.9" fill="#00BFC4"/>
<text x="642.3" y="173.1" font-size="9.2" fill="#000">X</text>
<text x="642.3" y="185.7" font-size="9.2" fill="#000">Y</text>
</svg></body></html>
